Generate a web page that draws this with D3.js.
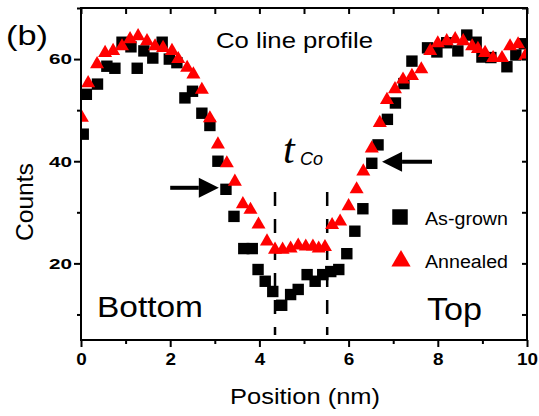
<!DOCTYPE html>
<html><head><meta charset="utf-8">
<script src="https://cdn.jsdelivr.net/npm/d3@7/dist/d3.min.js"></script>
<style>html,body{margin:0;padding:0;background:#fff;}svg{display:block;}</style>
</head><body>
<svg id="c" width="539" height="416"></svg>
<script>
// As-grown (black squares): position (nm)
const asGrownX = [0.05,0.12,0.37,0.58,0.76,0.92,1.12,1.26,1.41,1.61,1.82,1.98,2.15,2.33,2.5,2.71,2.89,3.07,3.25,3.43,3.65,3.84,3.97,4.13,4.3,4.5,4.7,4.87,5.07,5.25,5.42,5.6,5.78,5.96,6.14,6.32,6.52,6.66,6.87,7.05,7.24,7.42,7.77,7.98,8.2,8.45,8.65,8.86,8.99,9.19,9.55,9.75,9.94];
const asGrownY = [45.3,53.1,55.1,58.6,58.2,63.3,62.4,58.2,61.6,60.2,63.3,60,59.3,52.4,53.7,49.4,47,40,34.5,29.2,22.9,22.9,18.8,16.5,14.5,11.8,13.9,14.9,17.8,16.5,17.8,18.4,18.8,21.9,26.3,30.7,39.6,43.2,48.2,51.4,55.2,59.6,62.2,61.4,63.2,61.6,64.7,63.3,60.4,60.3,58.5,60.8,63];
// Annealed (red triangles)
const annealedX = [0.02,0.16,0.36,0.54,0.72,0.92,1.1,1.28,1.48,1.66,1.84,2.04,2.18,2.38,2.52,2.71,2.89,3.07,3.27,3.45,3.63,3.8,3.98,4.17,4.35,4.52,4.7,4.87,5.04,5.2,5.33,5.47,5.63,5.81,6.0,6.18,6.33,6.52,6.7,6.86,7.04,7.22,7.42,7.63,7.83,8.0,8.2,8.39,8.57,8.77,8.9,9.06,9.24,9.44,9.62,9.8,9.96];
const annealedY = [48.5,55.3,59,61.2,61.6,62.5,63.9,64.5,63.5,62.5,62.2,61.6,60,58.3,57,54,48.4,43.3,39.6,36,31.6,30.5,27.6,24.3,22.7,22.7,22.9,23.5,23.3,23.3,22.9,23.2,27.5,28.2,31.2,34.5,38,42.5,47.5,52,54.1,56,56.7,58,61.6,63.1,63.5,63.9,63.5,62.5,62,61.2,60.2,60.2,62.5,62.9,60.6];
const xTicks = [0,2,4,6,8,10];
const xMinor = [1,3,5,7,9];
const yTicks = [20,40,60];
const yMinor = [10,30,50,70];
const seriesNames = ["As-grown","Annealed"];
const dashedX = [4.35,5.52];

const svg = d3.select("#c");
const L=81,R=527,T=8,B=340;
const x = d3.scaleLinear().domain([0,10]).range([L,R]);
const y = d3.scaleLinear().domain([5,70]).range([B,T]);
const font = "'Liberation Sans', Arial, Helvetica, sans-serif";

svg.append("defs").append("clipPath").attr("id","pc")
  .append("rect").attr("x",L).attr("y",T).attr("width",R-L).attr("height",B-T);

// dashed lines
svg.append("g").selectAll("line").data(dashedX).join("line")
  .attr("x1",d=>x(d)).attr("x2",d=>x(d)).attr("y1",y(34)).attr("y2",y(6))
  .attr("stroke","#000").attr("stroke-width",2.5).attr("stroke-dasharray","14,13");

const plot = svg.append("g").attr("clip-path","url(#pc)");
const asData = asGrownX.map((v,i)=>[v,asGrownY[i]]);
const anData = annealedX.map((v,i)=>[v,annealedY[i]]);
plot.append("g").selectAll("path").data(asData).join("path")
  .attr("d",d3.symbol(d3.symbolSquare,130)())
  .attr("transform",d=>`translate(${x(d[0])},${y(d[1])})`)
  .attr("fill","#000");
plot.append("g").selectAll("path").data(anData).join("path")
  .attr("d",d3.symbol(d3.symbolTriangle,85)())
  .attr("transform",d=>`translate(${x(d[0])},${y(d[1])})`)
  .attr("fill","#ff0000");

// axes
const axB = svg.append("g").attr("transform",`translate(0,${B})`)
  .call(d3.axisBottom(x).tickValues(xTicks).tickSize(7).tickFormat(d3.format("d")));
const axBm = svg.append("g").attr("transform",`translate(0,${B})`)
  .call(d3.axisBottom(x).tickValues(xMinor).tickSize(4).tickFormat(""));
const axL = svg.append("g").attr("transform",`translate(${L},0)`)
  .call(d3.axisLeft(y).tickValues(yTicks).tickSize(7).tickFormat(d3.format("d")));
const axLm = svg.append("g").attr("transform",`translate(${L},0)`)
  .call(d3.axisLeft(y).tickValues(yMinor).tickSize(4).tickFormat(""));
const axT = svg.append("g").attr("transform",`translate(0,${T})`)
  .call(d3.axisBottom(x).tickValues(xTicks.concat(xMinor)).tickSize(6).tickFormat(""));
const axR = svg.append("g").attr("transform",`translate(${R},0)`)
  .call(d3.axisLeft(y).tickValues(yTicks.concat(yMinor)).tickSize(5).tickFormat(""));
[axB,axBm,axL,axLm,axT,axR].forEach(g=>{
  g.select(".domain").remove();
  g.selectAll(".tick line").attr("stroke","#000").attr("stroke-width",2);
});
axB.selectAll(".tick text").attr("font-family",font).attr("font-weight","bold")
  .attr("font-size",16).attr("fill","#000").attr("dy",null).attr("y",25)
  .attr("textLength",d=>String(d).length*10.5).attr("lengthAdjust","spacingAndGlyphs");
axL.selectAll(".tick text").attr("font-family",font).attr("font-weight","bold")
  .attr("font-size",15).attr("fill","#000").attr("x",-9)
  .attr("textLength",d=>String(d).length*11.5).attr("lengthAdjust","spacingAndGlyphs");

svg.append("rect").attr("x",L).attr("y",T).attr("width",R-L).attr("height",B-T)
  .attr("fill","none").attr("stroke","#000").attr("stroke-width",2);

function txt(s,px,py,size,len,opts={}){
  const t = svg.append("text").attr("x",px).attr("y",py).text(s)
    .attr("font-family",opts.family||font).attr("font-size",size).attr("fill","#000");
  if(len) t.attr("textLength",len).attr("lengthAdjust","spacingAndGlyphs");
  if(opts.anchor) t.attr("text-anchor",opts.anchor);
  if(opts.style) t.attr("font-style",opts.style);
  if(opts.transform) t.attr("transform",opts.transform);
  return t;
}
txt("(b)",6,45,27,42);
txt("Co line profile",216,48,22,157);
txt("Bottom",97,317,30,106);
txt("Top",427,320,31,55);
txt("Position (nm)",305,404,22,150,{anchor:"middle"});
txt("Counts",0,0,24,78,{anchor:"middle",transform:`translate(33,${y(32)}) rotate(-90)`});
txt("t",283,163,42,null,{family:"'Liberation Serif','Times New Roman',serif",style:"italic"});
txt("Co",300,165,18,23,{style:"italic"});

// legend
const lg = svg.append("g");
lg.append("path").attr("d",d3.symbol(d3.symbolSquare,240)()).attr("transform","translate(400,217)").attr("fill","#000");
lg.append("path").attr("d",d3.symbol(d3.symbolTriangle,160)()).attr("transform","translate(401,261)").attr("fill","#ff0000");
txt(seriesNames[0],425,225,18,83);
txt(seriesNames[1],425,268,18,83);

// arrows
function arrow(x0,x1,yv){
  const px0=x(x0), px1=x(x1), py=y(yv);
  const dir = Math.sign(px1-px0);
  const hb = px1 - dir*20;
  svg.append("line").attr("x1",px0).attr("x2",hb).attr("y1",py).attr("y2",py)
    .attr("stroke","#000").attr("stroke-width",4);
  svg.append("path").attr("d",`M${px1},${py}L${hb},${py-10}L${hb},${py+10}Z`).attr("fill","#000");
}
arrow(2.0,3.09,34.8);
arrow(7.87,6.75,39.9);
</script>
</body></html>
